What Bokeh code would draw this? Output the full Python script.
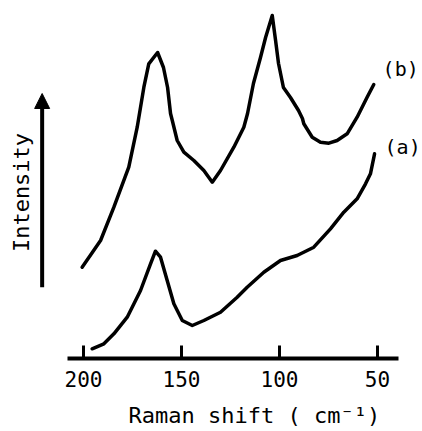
import math
from bokeh.plotting import figure
from bokeh.models import Range1d, FixedTicker, Label, Arrow, NormalHead
from bokeh.embed import file_html
from bokeh.resources import INLINE

# Raman shift (cm^-1) and intensity (arbitrary units)
shift_b = [200.7, 191.3, 184.5, 176.9, 172.6, 169.2, 166.7, 162.2, 159.2, 157.1,
           155.6, 154.7, 152.2, 148.8, 143.7, 138.6, 134.3, 130.1, 123.3, 118.2,
           116.3, 113.3, 109.7, 107.1, 103.7, 102.0, 100.5, 98.0, 94.4, 90.3,
           88.3, 87.6, 83.3, 79.1, 74.8, 70.6, 65.5, 60.4, 55.3, 51.9]
inten_b = [91.3, 118, 151.3, 191.3, 231.3, 271.3, 294.7, 306, 291, 271,
           245, 238, 218, 206.3, 198, 188, 176.3, 188, 211.3, 231.3,
           245, 275, 301, 321, 343, 318, 295, 271, 261, 248,
           240, 234.7, 221.3, 216.3, 215.3, 218, 224.7, 241.3, 261.3, 274]

shift_a = [195.6, 189.6, 184.5, 177.7, 170.9, 165.8, 163.3, 160.7, 157.3, 153.9,
           149.6, 144.5, 138.6, 130.1, 121.6, 116.5, 108.0, 99.5, 91.0, 82.5,
           74.0, 67.2, 60.4, 56.1, 53.6, 51.5]
inten_a = [9.7, 14.7, 24.7, 41.3, 68, 94.7, 107.3, 101.3, 78, 54.7,
           38, 33, 38, 46.3, 61.3, 71.3, 86.3, 98, 103, 111.3,
           129.7, 146.3, 159.7, 174.7, 184.7, 204.7]

x_ticks = [200, 150, 100, 50]
x_bounds = (39.3, 208.2)
x_label = "Raman shift ( cm\u207b\u00b9)"
y_label = "Intensity"
curve_names = ["(a)", "(b)"]

MONO = "DejaVu Sans Mono"

p = figure(width=421, height=430, output_backend="svg", toolbar_location=None,
           x_range=Range1d(242.35, 27.55), y_range=Range1d(-72, 358),
           min_border_left=0, min_border_right=0, min_border_top=0,
           min_border_bottom=0)
p.outline_line_color = None
p.xgrid.visible = False
p.ygrid.visible = False
p.yaxis.visible = False
p.background_fill_color = "white"
p.border_fill_color = "white"

ax = p.xaxis[0]
ax.fixed_location = 0
ax.bounds = x_bounds
ax.ticker = FixedTicker(ticks=x_ticks)
ax.axis_line_width = 4
ax.axis_line_color = "black"
ax.major_tick_in = 13
ax.major_tick_out = 0
ax.major_tick_line_width = 3
ax.major_tick_line_color = "black"
ax.minor_tick_line_color = None
ax.major_label_text_font = MONO
ax.major_label_text_font_size = "21px"
ax.major_label_text_color = "black"
ax.major_label_standoff = 12

p.line(shift_b, inten_b, line_color="black", line_width=3.5, line_join="round", line_cap="round")
p.line(shift_a, inten_a, line_color="black", line_width=3.5, line_join="round", line_cap="round")

p.add_layout(Label(x=177.0, y=-57, text=x_label, text_font=MONO, text_font_size="22px",
                   text_align="left", text_baseline="middle", text_color="black"))
p.add_layout(Label(x=231.4, y=166, text=y_label, text_font=MONO, text_font_size="22px",
                   angle=math.pi / 2, text_align="center", text_baseline="middle",
                   text_color="black"))
p.add_layout(Arrow(end=NormalHead(size=15, fill_color="black", line_color="black"),
                   x_start=221.1, y_start=71.3, x_end=221.1, y_end=265,
                   line_width=4, line_color="black"))
p.add_layout(Label(x=46.4, y=212, text=curve_names[0], text_font=MONO, text_font_size="20px",
                   text_align="left", text_baseline="middle", text_color="black"))
p.add_layout(Label(x=47.4, y=290, text=curve_names[1], text_font=MONO, text_font_size="20px",
                   text_align="left", text_baseline="middle", text_color="black"))

open("out.html", "w").write(file_html(p, INLINE))
